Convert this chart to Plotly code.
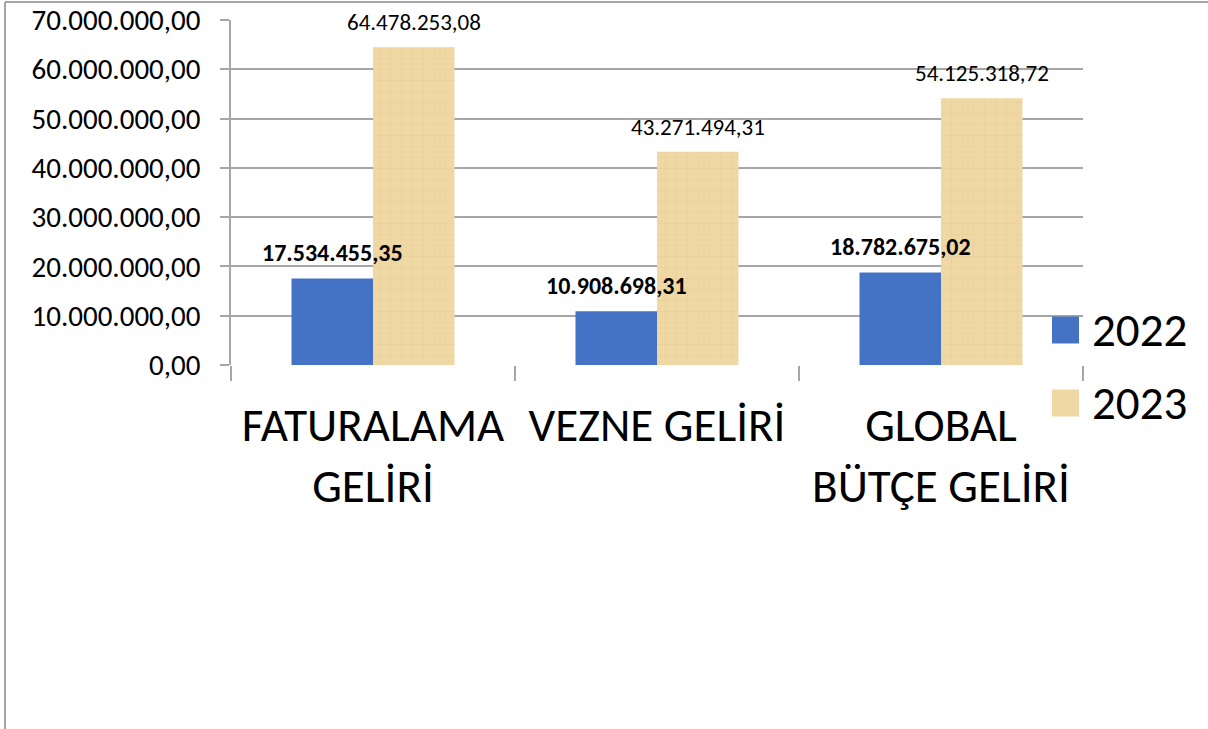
import plotly.graph_objects as go


# ==========================================================
# DATA
# ==========================================================

categories = ["FATURALAMA<br>GELİRİ", "VEZNE GELİRİ", "GLOBAL<br>BÜTÇE GELİRİ"]

years = ["2022", "2023"]

values_2022 = [17534455.35, 10908698.31, 18782675.02]

values_2023 = [64478253.08, 43271494.31, 54125318.72]

y_ticks = [0, 10000000, 20000000, 30000000, 40000000, 50000000, 60000000, 70000000]


def tr_number(v):
    # Turkish style: 1.234.567,89
    s = f"{v:,.2f}"
    return s.replace(",", "X").replace(".", ",").replace("X", ".")


# ----------------------------------------------------------
# STYLE
# ----------------------------------------------------------

FONT = "Calibri, Carlito, Lato, sans-serif"
BLUE = "#4472C4"
PAPYRUS = "#EFD8A4"
GRID = "#A6A6A6"

W, H = 1208, 729
L, R, T, B = 231, 125, 20, 364
PW = W - L - R
PH = H - T - B


def px_x(p):
    return (p - L) / PW


def px_y(p):
    return (H - B - p) / PH


fig = go.Figure()

# ==========================================================
# BARS
# ==========================================================

fig.add_trace(
    go.Bar(
        x=categories,
        y=values_2022,
        name=years[0],
        marker=dict(color=BLUE, line=dict(width=0)),
        showlegend=False,
    )
)

fig.add_trace(
    go.Bar(
        x=categories,
        y=values_2023,
        name=years[1],
        marker=dict(
            color=PAPYRUS,
            line=dict(width=0),
            pattern=dict(
                shape="+",
                bgcolor=PAPYRUS,
                fgcolor="#CDB274",
                fgopacity=0.2,
                size=11,
                solidity=0.12,
            ),
        ),
        showlegend=False,
    )
)

# ----------------------------------------------------------
# DATA LABELS
# ----------------------------------------------------------

bar_half = 40.75

for cat, v in zip(categories, values_2022):
    fig.add_annotation(
        x=cat, y=v, xshift=-bar_half, yshift=26,
        text=f"<b>{tr_number(v)}</b>",
        showarrow=False, yanchor="middle",
        font=dict(family=FONT, size=24, color="black"),
    )

for cat, v in zip(categories, values_2023):
    fig.add_annotation(
        x=cat, y=v, xshift=bar_half, yshift=25,
        text=tr_number(v),
        showarrow=False, yanchor="middle",
        font=dict(family=FONT, size=23, color="black"),
    )

# ----------------------------------------------------------
# LEGEND (drawn by hand so the keys can be large)
# ----------------------------------------------------------

legend_items = [(years[0], BLUE, 330), (years[1], PAPYRUS, 403)]

for label, color, cy in legend_items:
    fig.add_shape(
        type="rect", xref="paper", yref="paper",
        x0=px_x(1052), x1=px_x(1079),
        y0=px_y(cy + 13.5), y1=px_y(cy - 13.5),
        fillcolor=color, line=dict(width=0),
    )
    fig.add_annotation(
        xref="paper", yref="paper",
        x=px_x(1090), y=px_y(cy),
        xanchor="left", yanchor="middle",
        text=label, showarrow=False,
        font=dict(family=FONT, size=47, color="black"),
    )

# ----------------------------------------------------------
# OUTER BORDER (left and top edges visible)
# ----------------------------------------------------------

fig.add_shape(
    type="line", xref="paper", yref="paper",
    x0=px_x(5), x1=px_x(5), y0=px_y(2), y1=px_y(740),
    line=dict(color=GRID, width=2),
)
fig.add_shape(
    type="line", xref="paper", yref="paper",
    x0=px_x(5), x1=px_x(1220), y0=px_y(2), y1=px_y(2),
    line=dict(color=GRID, width=2),
)

# ==========================================================
# LAYOUT
# ==========================================================

fig.update_layout(
    width=W,
    height=H,
    margin=dict(l=L, r=R, t=T, b=B, pad=0),
    paper_bgcolor="white",
    plot_bgcolor="white",
    barmode="group",
    bargap=0.426,
    bargroupgap=0,
    separators=",.",
    showlegend=False,
    font=dict(family=FONT, color="black"),
    xaxis=dict(
        type="category",
        tickson="boundaries",
        ticks="outside",
        ticklen=15,
        tickwidth=1.5,
        tickcolor=GRID,
        showgrid=False,
        showline=False,
        automargin=False,
        ticklabelstandoff=28,
        tickfont=dict(family=FONT, size=47, color="black"),
    ),
    yaxis=dict(
        range=[0, 70000000],
        tickvals=y_ticks,
        tickformat=",.2f",
        ticks="outside",
        ticklen=9,
        tickwidth=1.5,
        tickcolor=GRID,
        showgrid=True,
        gridcolor=GRID,
        gridwidth=1.5,
        showline=True,
        linecolor=GRID,
        linewidth=1.5,
        zeroline=False,
        automargin=False,
        ticklabelstandoff=14,
        tickfont=dict(family=FONT, size=29, color="black"),
    ),
)

# the page body has an 8px default margin; drop it so the figure sits at 0,0
fig.write_html(
    "out.html",
    config={"displayModeBar": False},
    post_script="document.body.style.margin='0';",
)
